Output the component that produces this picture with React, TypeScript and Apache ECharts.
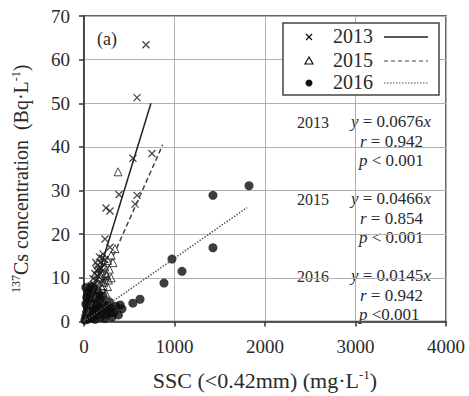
import React, { useEffect, useRef } from "react";
import * as echarts from "echarts";

const years = ["2013", "2015", "2016"];
const slopes = ["0.0676", "0.0466", "0.0145"];
const rValues = ["0.942", "0.854", "0.942"];
const pValues = ["< 0.001", "< 0.001", "<0.001"];

const xTicks = [0, 1000, 2000, 3000, 4000];
const yTicks = [0, 10, 20, 30, 40, 50, 60, 70];

const data2013: number[][] = [
  [685, 63.4], [586, 51.3], [541, 37.4], [751, 38.5], [387, 29.1], [586, 28.9],
  [564, 26.9], [243, 26.0], [287, 25.3], [232, 18.9], [287, 17.0], [200, 14.5],
  [180, 13.5], [220, 13.0], [160, 12.0], [200, 11.5], [150, 10.5], [240, 10.0],
  [130, 9.5], [180, 9.0], [110, 8.5], [160, 8.0], [90, 7.5], [140, 7.0],
  [70, 6.5], [120, 6.0], [60, 5.5], [100, 5.0], [50, 4.5], [80, 4.0],
  [40, 3.5], [130, 3.0], [30, 2.5], [60, 2.0], [20, 1.5], [90, 1.0],
  [10, 0.8], [45, 0.5], [150, 12.8], [210, 15.5], [170, 14.8], [120, 11.0],
  [100, 9.8], [140, 11.8], [190, 12.2], [170, 10.8], [110, 7.0], [80, 8.2],
  [230, 14.2], [130, 13.5], [60, 7.0], [200, 9.5],
];

const data2015: number[][] = [
  [376, 34.3], [342, 16.7], [300, 15.2], [320, 13.5], [260, 14.0], [280, 12.0],
  [240, 11.0], [300, 10.0], [220, 9.0], [260, 8.0], [200, 7.5], [180, 6.0],
  [240, 6.5], [150, 5.0], [200, 4.5], [120, 4.0], [100, 3.0], [160, 3.5],
  [80, 2.5], [130, 2.0], [60, 1.5], [230, 12.5], [190, 10.2], [270, 9.5],
  [210, 8.2], [250, 10.5],
];

const data2016: number[][] = [
  [1823, 31.1], [1425, 28.9], [1425, 16.9], [972, 14.3], [1083, 11.5], [884, 8.8],
  [619, 5.1], [540, 4.2], [420, 2.9], [350, 3.5], [300, 3.0], [280, 4.5],
  [250, 2.5], [220, 3.8], [200, 2.0], [180, 5.0], [160, 3.0], [150, 1.5],
  [130, 4.0], [120, 2.5], [100, 1.0], [100, 6.0], [90, 3.5], [80, 2.0],
  [70, 5.0], [60, 1.0], [50, 3.0], [40, 6.5], [40, 0.5], [30, 2.0],
  [20, 4.0], [20, 1.0], [10, 0.3], [60, 7.0], [110, 7.5], [30, 5.5],
  [180, 1.0], [240, 1.5], [330, 2.0], [20, 7.8], [70, 3.0], [140, 5.5],
  [210, 5.8], [260, 3.5], [310, 1.0], [380, 1.5], [120, 0.5], [160, 6.5],
  [80, 8.0], [50, 5.0], [230, 0.7], [290, 2.0], [400, 3.8], [190, 3.0],
];

const fit2013: number[][] = [[0, 0], [740, 50.0]];
const fit2015: number[][] = [[0, 0], [870, 40.5]];
const fit2016: number[][] = [[0, 0], [1800, 26.1]];

const SERIF = "'Liberation Serif', 'Times New Roman', serif";
const INK = "#2a2a2a";

export default function App() {
  const ref = useRef<HTMLDivElement>(null);

  useEffect(() => {
    if (!ref.current) return;
    const chart = echarts.init(ref.current, null, { renderer: "svg" });

    const italic = { fontStyle: "italic", fontFamily: SERIF, fontSize: 17, fill: INK, color: INK };
    const annotationTops = [123, 200, 277];
    const annotations: any[] = [];
    years.forEach((yr, i) => {
      const y0 = annotationTops[i];
      annotations.push(
        { type: "text", left: 297, top: y0 - 9, style: { text: yr, font: `16px ${SERIF}`, fill: INK } },
        {
          type: "text", left: 351, top: y0 - 10,
          style: { text: `{i|y} = ${slopes[i]}{i|x}`, font: `17px ${SERIF}`, fill: INK, rich: { i: italic } },
        },
        {
          type: "text", left: 360, top: y0 + 10,
          style: { text: `{i|r} = ${rValues[i]}`, font: `17px ${SERIF}`, fill: INK, rich: { i: italic } },
        },
        {
          type: "text", left: 359, top: y0 + 29,
          style: { text: `{i|p} ${pValues[i]}`, font: `17px ${SERIF}`, fill: INK, rich: { i: italic } },
        }
      );
    });

    const legendRows = [37, 61, 83];
    const legendEls: any[] = [
      { type: "rect", shape: { x: 283, y: 23, width: 156, height: 72 }, style: { fill: "#fff", stroke: "#444", lineWidth: 1.5 }, z: 10 },
      { type: "line", shape: { x1: 306, y1: legendRows[0] - 3, x2: 312, y2: legendRows[0] + 3 }, style: { stroke: "#111", lineWidth: 1.3 }, z: 11 },
      { type: "line", shape: { x1: 306, y1: legendRows[0] + 3, x2: 312, y2: legendRows[0] - 3 }, style: { stroke: "#111", lineWidth: 1.3 }, z: 11 },
      { type: "polygon", shape: { points: [[309, legendRows[1] - 4], [305, legendRows[1] + 3], [313, legendRows[1] + 3]] }, style: { fill: "#fff", stroke: "#111", lineWidth: 1.2 }, z: 11 },
      { type: "circle", shape: { cx: 309, cy: legendRows[2], r: 3.5 }, style: { fill: "#111" }, z: 11 },
      { type: "line", shape: { x1: 384, y1: legendRows[0], x2: 428, y2: legendRows[0] }, style: { stroke: "#222", lineWidth: 1.5 }, z: 11 },
      { type: "line", shape: { x1: 384, y1: legendRows[1], x2: 428, y2: legendRows[1] }, style: { stroke: "#444", lineWidth: 1.2, lineDash: [4, 3] }, z: 11 },
      { type: "line", shape: { x1: 384, y1: legendRows[2], x2: 428, y2: legendRows[2] }, style: { stroke: "#555", lineWidth: 1.2, lineDash: [1.5, 1.5] }, z: 11 },
    ];
    years.forEach((yr, i) => {
      legendEls.push({ type: "text", left: 333, top: legendRows[i] - 11, style: { text: yr, font: `20px ${SERIF}`, fill: INK }, z: 11 });
    });

    const option: any = {
      animation: false,
      backgroundColor: "#fff",
      grid: { left: 84, right: 23, top: 16, bottom: 62, show: true, borderColor: "#333", borderWidth: 1.5, backgroundColor: "transparent" },
      xAxis: {
        type: "value", min: xTicks[0], max: xTicks[xTicks.length - 1], interval: 1000,
        name: "SSC (<0.42mm) (mg·L{sup|-1})",
        nameLocation: "middle", nameGap: 46,
        nameTextStyle: { fontFamily: SERIF, fontSize: 22, color: INK, rich: { sup: { fontFamily: SERIF, fontSize: 13, color: INK, padding: [0, 0, 12, 0] } } },
        axisLine: { lineStyle: { color: "#333", width: 1.5 } },
        axisTick: { show: true, length: 5, lineStyle: { color: "#333", width: 1.5 } },
        axisLabel: { fontFamily: SERIF, fontSize: 19, color: INK, margin: 15, formatter: (v: number) => String(v) },
        splitLine: { lineStyle: { color: "#b0b0b0", width: 1 } },
      },
      yAxis: {
        type: "value", min: yTicks[0], max: yTicks[yTicks.length - 1], interval: 10,
        name: "{sup|137}Cs concentration  (Bq·L{sup|-1})",
        nameLocation: "middle", nameGap: 52,
        nameTextStyle: { fontFamily: SERIF, fontSize: 20, color: INK, padding: [0, 20, 0, 0], rich: { sup: { fontFamily: SERIF, fontSize: 12, color: INK, padding: [0, 0, 10, 0] } } },
        axisLine: { show: true, lineStyle: { color: "#333", width: 1.5 } },
        axisTick: { show: true, length: 5, lineStyle: { color: "#333", width: 1.5 } },
        axisLabel: { fontFamily: SERIF, fontSize: 19, color: INK, margin: 14, formatter: (v: number) => String(v) },
        splitLine: { lineStyle: { color: "#b0b0b0", width: 1 } },
      },
      series: [
        {
          name: "2015", type: "scatter", data: data2015, symbol: "triangle", symbolSize: 8,
          itemStyle: { color: "rgba(255,255,255,0)", borderColor: "#1a1a1a", borderWidth: 1 }, z: 3,
        },
        {
          name: "2013", type: "scatter", data: data2013, symbol: "path://M0,0L10,10M10,0L0,10", symbolSize: 7,
          itemStyle: { color: "rgba(0,0,0,0)", borderColor: "#1a1a1a", borderWidth: 1.3 }, z: 4,
        },
        {
          name: "2016", type: "scatter", data: data2016, symbol: "circle", symbolSize: 9,
          itemStyle: { color: "#0d0d0d" }, z: 5,
        },
        {
          name: "fit2013", type: "line", data: fit2013, symbol: "none",
          lineStyle: { color: "#222", width: 1.5, type: "solid" }, z: 6,
        },
        {
          name: "fit2015", type: "line", data: fit2015, symbol: "none",
          lineStyle: { color: "#444", width: 1.5, type: [5, 3] }, z: 6,
        },
        {
          name: "fit2016", type: "line", data: fit2016, symbol: "none",
          lineStyle: { color: "#555", width: 1.5, type: [1.5, 1.5] }, z: 6,
        },
      ],
      graphic: [
        { type: "text", left: 97, top: 30, style: { text: "(a)", font: `18px ${SERIF}`, fill: INK } },
        ...legendEls,
        ...annotations,
      ],
    };

    chart.setOption(option);
    return () => chart.dispose();
  }, []);

  return <div ref={ref} style={{ width: 469, height: 396, position: "absolute", left: 0, top: 0 }} />;
}
